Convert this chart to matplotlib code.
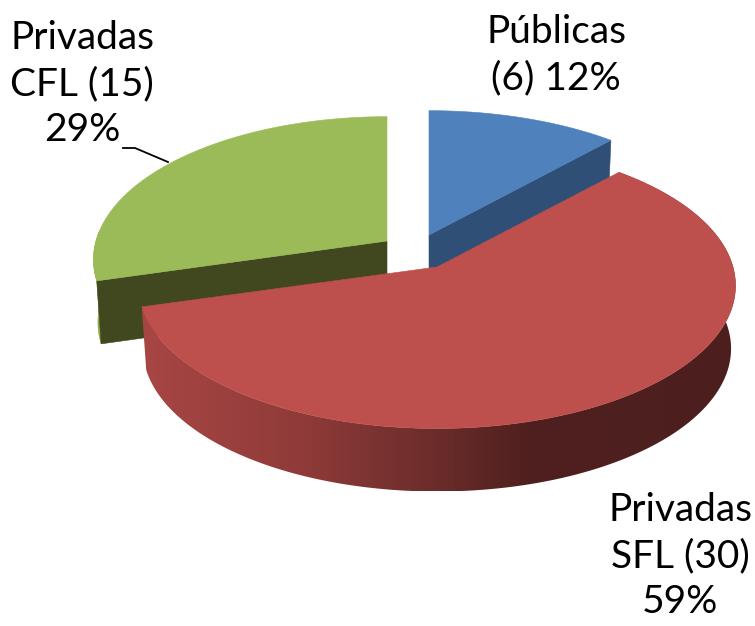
import numpy as np
import matplotlib
matplotlib.use("Agg")
import matplotlib.pyplot as plt
from matplotlib.patches import Polygon
from matplotlib.colors import LinearSegmentedColormap

labels = ["Públicas\n(6) 12%", "Privadas\nSFL (30)\n59%", "Privadas\nCFL (15)\n29%"]
values = [6, 30, 15]
top_colors = ["#4f81bd", "#bd4f4c", "#9bbb59"]
wall_colors = ["#2f4f77", "#a84644", "#41481f"]
apexes = [(429, 235), (437, 267), (387, 241)]
widths = [296.0, 296.0, 291.0]
label_xy = [(556, 55), (680, 556), (82, 84)]

B, K, DEPTH, BOTTOM_X = 140.5, 0.13, 63.0, 0.985
red_side = LinearSegmentedColormap.from_list(
    "side", [(0, "#a84644"), (0.27, "#8f3b39"), (0.5, "#6a2c2a"), (0.65, "#4f201f"), (1, "#4c1f1e")])


def project(theta, apex, A, depth=0.0):
    u, v = np.sin(theta), np.cos(theta)
    s = 1.0 / (1.0 + K * v)
    xs = BOTTOM_X if depth else 1.0
    return apex[0] + A * u * s * xs, apex[1] - B * v * s + depth


def sector(a0, a1, apex, A):
    th = np.linspace(a0, a1, 200)
    x, y = project(th, apex, A)
    return np.r_[[apex[0]], x], np.r_[[apex[1]], y]


fig = plt.figure(figsize=(7.55, 6.26), dpi=100)
ax = fig.add_axes([0, 0, 1, 1])
ax.axis("off")

edges = np.r_[0, np.cumsum(values)] / np.sum(values) * 2 * np.pi


def poly(x, y, c, z):
    p = Polygon(np.c_[x, y], closed=True, fc=c, ec=c, lw=0.4, zorder=z)
    ax.add_patch(p)
    return p


def radial_wall(theta, apex, A, c, z):
    x0, y0 = project(theta, apex, A)
    x1, y1 = project(theta, apex, A, DEPTH)
    poly([apex[0], x0, x1, apex[0]], [apex[1], y0, y1, apex[1] + DEPTH], c, z)


# green slice
a0, a1 = edges[2], edges[3]
th = np.linspace(a0, a0 + 0.35, 30)
xt, yt = project(th, apexes[2], widths[2])
xb, yb = project(th, apexes[2], widths[2], DEPTH)
poly(np.r_[xt, xb[::-1]], np.r_[yt, yb[::-1]], "#8fad50", 1)
radial_wall(a0, apexes[2], widths[2], wall_colors[2], 2)
poly(*sector(a0, a1, apexes[2], widths[2]), top_colors[2], 3)

# blue slice
a0, a1 = edges[0], edges[1]
radial_wall(a1, apexes[0], widths[0], wall_colors[0], 2)
poly(*sector(a0, a1, apexes[0], widths[0]), top_colors[0], 3)

# red slice: outer wall with a horizontal gradient clipped to its outline
a0, a1 = edges[1], edges[2]
th = np.linspace(a0, a1, 400)
xt, yt = project(th, apexes[1], widths[1])
xb, yb = project(th, apexes[1], widths[1], DEPTH)
wall = Polygon(np.c_[np.r_[xt, xb[::-1]], np.r_[yt, yb[::-1]]], closed=True, fc="none", ec="none",
               transform=ax.transData)
ax.add_patch(wall)
grad = np.linspace(0, 1, 512)[None, :]
im = ax.imshow(grad, cmap=red_side, extent=(xt.min(), xt.max(), yb.max(), yt.min()),
               aspect="auto", zorder=4, interpolation="bilinear")
im.set_clip_path(wall)
poly(*sector(a0, a1, apexes[1], widths[1]), top_colors[1], 5)

ax.set_xlim(0, 755)
ax.set_ylim(626, 0)

# labels
for (x, y), t in zip(label_xy, labels):
    ax.text(x, y, t, ha="center", va="center", family="Lato", fontsize=28,
            color="#000000", linespacing=1.36, zorder=6)
ax.plot([123, 135, 168], [148, 148, 162], color="black", lw=1.3, zorder=2)

fig.savefig("out.png", dpi=100)
